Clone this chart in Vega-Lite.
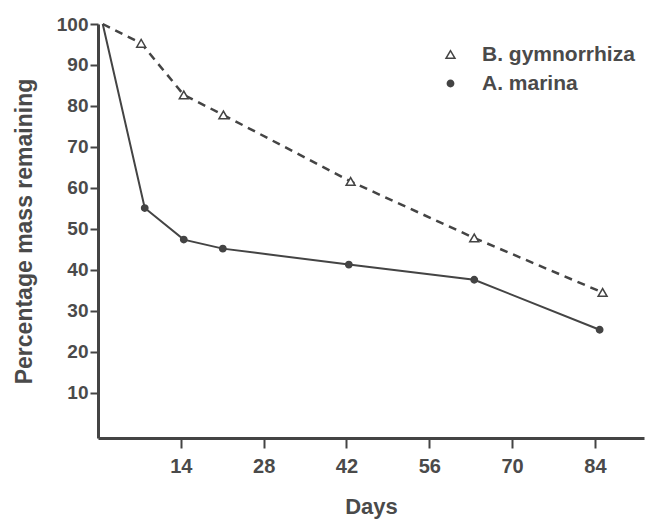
{
  "$schema": "https://vega.github.io/schema/vega-lite/v6.json",
  "width": 546,
  "height": 414,
  "autosize": {"type": "none"},
  "padding": {"left": 98, "top": 24, "right": 28, "bottom": 83},
  "background": "white",
  "config": {
    "view": {"stroke": null},
    "font": "Liberation Sans",
    "axis": {
      "grid": false,
      "domainColor": "#444",
      "domainWidth": 3,
      "tickColor": "#444",
      "tickWidth": 2,
      "labelFont": "Liberation Sans",
      "labelFontWeight": "bold",
      "labelColor": "#4a4a4a",
      "titleFont": "Liberation Sans",
      "titleFontWeight": "bold",
      "titleColor": "#4a4a4a"
    },
    "legend": {
      "labelFont": "Liberation Sans",
      "labelFontWeight": "bold",
      "labelColor": "#4a4a4a",
      "labelFontSize": 21,
      "orient": "none",
      "legendX": 342,
      "legendY": 20,
      "labelOffset": 21,
      "rowPadding": 7,
      "symbolStrokeWidth": 1.5,
      "padding": 0,
      "title": null
    }
  },
  "data": {
    "values": [
      {"series": "B. gymnorrhiza", "day": 0.8, "pct": 100},
      {"series": "B. gymnorrhiza", "day": 7.3, "pct": 95.3},
      {"series": "B. gymnorrhiza", "day": 14.5, "pct": 82.7},
      {"series": "B. gymnorrhiza", "day": 21.2, "pct": 77.8},
      {"series": "B. gymnorrhiza", "day": 42.7, "pct": 61.6},
      {"series": "B. gymnorrhiza", "day": 63.6, "pct": 47.8},
      {"series": "B. gymnorrhiza", "day": 85.3, "pct": 34.5},
      {"series": "A. marina", "day": 0.8, "pct": 100},
      {"series": "A. marina", "day": 7.9, "pct": 55.1},
      {"series": "A. marina", "day": 14.5, "pct": 47.4},
      {"series": "A. marina", "day": 21.1, "pct": 45.2},
      {"series": "A. marina", "day": 42.4, "pct": 41.3},
      {"series": "A. marina", "day": 63.6, "pct": 37.6},
      {"series": "A. marina", "day": 84.8, "pct": 25.4}
    ]
  },
  "encoding": {
    "x": {
      "field": "day",
      "type": "quantitative",
      "scale": {"domain": [0, 92.3], "nice": false, "zero": false},
      "axis": {
        "values": [14, 28, 42, 56, 70, 84],
        "title": "Days",
        "titleFontSize": 22,
        "titlePadding": 20,
        "labelFontSize": 20,
        "labelPadding": 8,
        "tickSize": 10
      }
    },
    "y": {
      "field": "pct",
      "type": "quantitative",
      "scale": {"domain": [-1, 100], "nice": false, "zero": false},
      "axis": {
        "values": [10, 20, 30, 40, 50, 60, 70, 80, 90, 100],
        "title": "Percentage   mass   remaining",
        "titleFontSize": 23,
        "titlePadding": 20,
        "labelFontSize": 19,
        "labelPadding": 2,
        "tickSize": 8
      }
    }
  },
  "layer": [
    {
      "transform": [{"filter": "datum.series == 'B. gymnorrhiza'"}],
      "mark": {"type": "line", "color": "#444", "strokeDash": [8, 6], "strokeWidth": 2.5}
    },
    {
      "transform": [{"filter": "datum.series == 'A. marina'"}],
      "mark": {"type": "line", "color": "#444", "strokeWidth": 2}
    },
    {
      "transform": [{"filter": "datum.day > 1"}],
      "mark": {"type": "point", "filled": false, "strokeWidth": 1.5, "opacity": 1},
      "encoding": {
        "shape": {
          "field": "series",
          "type": "nominal",
          "scale": {"domain": ["B. gymnorrhiza", "A. marina"], "range": ["triangle-up", "circle"]},
          "legend": {"title": null}
        },
        "fill": {
          "field": "series",
          "type": "nominal",
          "scale": {"domain": ["B. gymnorrhiza", "A. marina"], "range": ["white", "#444"]},
          "legend": {"title": null}
        },
        "stroke": {
          "field": "series",
          "type": "nominal",
          "scale": {"domain": ["B. gymnorrhiza", "A. marina"], "range": ["#444", "#444"]},
          "legend": {"title": null}
        },
        "size": {
          "field": "series",
          "type": "nominal",
          "scale": {"domain": ["B. gymnorrhiza", "A. marina"], "range": [80, 40]},
          "legend": {"title": null}
        }
      }
    }
  ]
}
